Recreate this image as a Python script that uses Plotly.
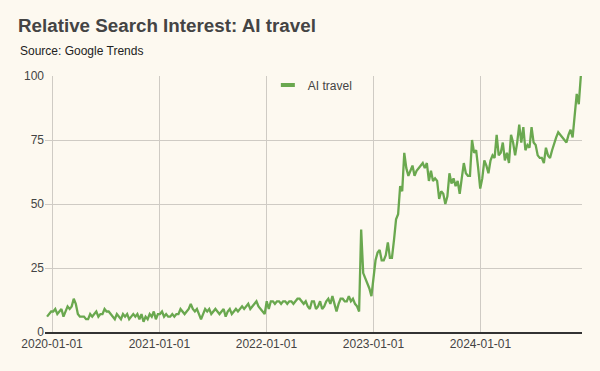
import pandas as pd
import plotly.graph_objects as go

# ---- data (weekly Google Trends) ----
start_date = "2019-12-15"
series_name = "AI travel"

v2019 = [6, 7, 8]
v2020 = [8, 9, 7, 8, 9, 6, 8, 10, 9, 10, 13, 11, 7, 6, 6, 6,
         5, 5, 7, 6, 7, 8, 6, 7, 7, 9, 8, 8, 7, 6, 5, 7, 6,
         5, 7, 6, 7, 5, 6, 7, 6, 7, 5, 7, 4, 6, 5, 7, 6, 8, 5, 7]
v2021 = [7, 8, 6, 7, 6, 6, 7, 6, 7, 7, 9, 8, 7, 8, 9, 11, 9, 8,
         9, 7, 5, 7, 9, 8, 9, 7, 8, 9, 8, 7, 8, 9, 6, 8, 9, 7,
         8, 9, 8, 9, 10, 9, 10, 11, 9, 10, 11, 12, 10, 9, 8, 7]
v2022 = [12, 9, 12, 12, 11, 12, 12, 11, 12, 12, 11, 12, 12, 11, 12, 13,
         13, 12, 11, 12, 10, 9, 12, 12, 9, 10, 12, 9, 10, 12, 13, 11,
         14, 11, 8, 11, 13, 13, 12, 12, 14, 12, 13, 11, 10, 8]
v2023 = [40, 23, 21, 19, 17, 14, 20, 28, 31, 32, 28, 28, 30, 35, 29, 29,
         36, 44, 46, 57, 55, 70, 64, 61, 63, 65, 61, 63, 64, 65, 66, 64,
         66, 59, 63, 59, 60, 59, 52, 55, 54, 50, 53, 62, 58, 60, 57, 59,
         54, 60, 66, 62, 61, 61, 75, 70, 71, 64]
v2024 = [56, 60, 67, 65, 62, 67, 69, 68, 77, 69, 70, 74, 67, 70, 66, 77,
         74, 69, 74, 81, 74, 80, 71, 73, 72, 80, 74, 73, 69, 68, 68, 66,
         72, 69, 68, 71, 74, 76, 78, 77, 76, 75, 74, 77, 79, 76, 85, 93,
         89, 100]

values = v2019 + v2020 + v2021 + v2022 + v2023 + v2024
dates = pd.date_range(start_date, periods=len(values), freq="7D")

y_ticks = [0, 25, 50, 75, 100]

GREEN = "#6aa84f"
BG = "#fdf9f0"
FONT = "Liberation Sans, Arial, sans-serif"

fig = go.Figure()
fig.add_trace(go.Scatter(
    x=dates, y=values, mode="lines", name=series_name,
    line=dict(color=GREEN, width=2.3), showlegend=False,
))
# legend entry (short thick bar like the original)
fig.add_trace(go.Scatter(
    x=[None], y=[None], mode="markers", name=series_name,
    marker=dict(symbol="line-ew", size=10, color=GREEN,
                line=dict(color=GREEN, width=4)),
    showlegend=True,
))

fig.update_layout(
    width=600, height=371,
    paper_bgcolor=BG, plot_bgcolor=BG,
    margin=dict(l=45, r=18, t=76, b=39),
    font=dict(family=FONT, size=12, color="#444"),
    title=dict(text="<b>Relative Search Interest: AI travel</b>",
               x=18 / 600, xanchor="left", xref="container",
               y=1 - 25 / 371, yanchor="middle", yref="container",
               font=dict(family=FONT, size=18.8, color="#444")),
    annotations=[dict(text="Source: Google Trends", xref="paper", yref="paper",
                      x=(18 - 45) / 537, xanchor="left",
                      y=(332 - 51) / 256, yanchor="middle",
                      showarrow=False,
                      font=dict(family=FONT, size=12, color="#222"))],
    legend=dict(x=0.415, y=(332 - 85) / 256, xanchor="left", yanchor="middle",
                bgcolor="rgba(0,0,0,0)", font=dict(size=12, color="#444"),
                itemwidth=30),
    xaxis=dict(
        range=["2019-12-08", "2024-12-12"],
        tick0="2020-01-01", dtick="M12", tickformat="%Y-%m-%d",
        showgrid=True, gridcolor="#cfcbc4", gridwidth=1,
        showline=True, linecolor="#333", linewidth=1.5,
        ticks="", zeroline=False,
        tickfont=dict(size=12, color="#444"),
    ),
    yaxis=dict(
        range=[0, 100], tickvals=y_ticks,
        showgrid=True, gridcolor="#cfcbc4", gridwidth=1,
        showline=False, zeroline=False, ticks="",
        tickfont=dict(size=12, color="#444"),
    ),
)

fig.write_html(
    "out.html",
    config={"displayModeBar": False},
    post_script="document.body.style.margin='0';document.body.style.background='%s';" % BG,
)
